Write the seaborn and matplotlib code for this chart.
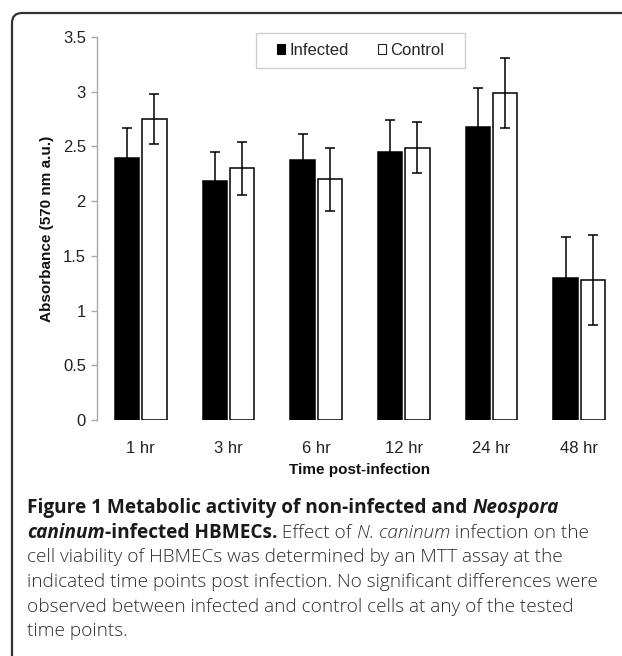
import numpy as np
import pandas as pd
import matplotlib
matplotlib.use("Agg")
import matplotlib.pyplot as plt
import seaborn as sns
from matplotlib.path import Path
from matplotlib.patches import PathPatch, Patch, Rectangle
from matplotlib.transforms import IdentityTransform

# ---------------- data ----------------
timepoints = ["1 hr", "3 hr", "6 hr", "12 hr", "24 hr", "48 hr"]
groups = ["Infected", "Control"]
infected_mean = [2.39, 2.18, 2.38, 2.45, 2.68, 1.30]
infected_err = [0.28, 0.27, 0.23, 0.29, 0.35, 0.37]
control_mean = [2.75, 2.30, 2.20, 2.49, 2.99, 1.28]
control_err = [0.23, 0.24, 0.29, 0.23, 0.32, 0.41]
y_ticks = [0, 0.5, 1, 1.5, 2, 2.5, 3, 3.5]
y_tick_labels = ["0", "0.5", "1", "1.5", "2", "2.5", "3", "3.5"]
y_label = "Absorbance (570 nm a.u.)"
x_label = "Time post-infection"

df = pd.DataFrame({
    "Time": timepoints * 2,
    "Group": [groups[0]] * len(timepoints) + [groups[1]] * len(timepoints),
    "Absorbance": infected_mean + control_mean,
})
errs = {groups[0]: infected_err, groups[1]: control_err}

sns.set_theme(style="white")
plt.rcParams['font.family'] = ['Liberation Sans Narrow', 'Liberation Sans', 'DejaVu Sans']

W, H = 622, 656
fig = plt.figure(figsize=(W / 100, H / 100), dpi=100)
fig.patch.set_facecolor("white")
ax = fig.add_axes([97 / W, 1 - 420 / H, (623 - 97) / W, (420 - 37) / H])

sns.barplot(data=df, x="Time", y="Absorbance", hue="Group",
            order=timepoints, hue_order=groups,
            palette={groups[0]: "black", groups[1]: "white"},
            edgecolor="black", linewidth=1.1, width=0.62, gap=0.1,
            errorbar=None, legend=False, ax=ax)

for cont, g in zip(ax.containers, groups):
    xs = [b.get_x() + b.get_width() / 2 for b in cont]
    ys = [b.get_height() for b in cont]
    ax.errorbar(xs, ys, yerr=errs[g], fmt="none", ecolor="black",
                elinewidth=1.1, capsize=3.5, capthick=1.1, zorder=5)

ax.set_xlim(-0.5, 5.5)
ax.set_ylim(0, 3.5)
ax.set_yticks(y_ticks)
ax.set_yticklabels(y_tick_labels)
for s in ["top", "right", "bottom"]:
    ax.spines[s].set_visible(False)
ax.spines["left"].set_color("#a8a8a8")
ax.spines["left"].set_linewidth(1.0)
ax.tick_params(axis="y", left=True, length=4, width=1.0, color="#a8a8a8",
               labelsize=12, labelcolor="#222222", pad=4)
ax.tick_params(axis="x", bottom=False, labelsize=12, labelcolor="#222222", pad=9)

ax.set_xlabel(x_label, fontsize=11, fontweight="bold", color="#111111",
              family=['Liberation Sans', 'DejaVu Sans'])
ax.xaxis.set_label_coords(0.5, (420 - 463) / 383)
ax.set_ylabel(y_label, fontsize=11, fontweight="bold", color="#111111",
              family=['Liberation Sans', 'DejaVu Sans'])
ax.yaxis.set_label_coords(-0.082, 0.5)

# legend
handles = [Patch(facecolor="black", edgecolor="black", linewidth=0.8),
           Patch(facecolor="white", edgecolor="#222222", linewidth=0.8)]
fig.legend(handles, groups, loc="center",
           bbox_to_anchor=((256 + 465) / 2 / W, 1 - (33 + 68) / 2 / H),
           ncol=2, frameon=False, fontsize=12, handlelength=0.5, handleheight=0.5,
           handletextpad=0.25, columnspacing=1.75)
fig.patches.append(Rectangle((256 / W, 1 - 68 / H), (465 - 256) / W, 35 / H,
                             transform=fig.transFigure, fill=False,
                             edgecolor="#cfcfcf", linewidth=1.0))

# frame with rounded top-left corner
r = 10
fx, fy = 12, 13
verts = [(fx, 0), (fx, H - fy - r), (fx, H - fy), (fx + r, H - fy), (W + 2, H - fy)]
codes = [Path.MOVETO, Path.LINETO, Path.CURVE3, Path.CURVE3, Path.LINETO]
fig.patches.append(PathPatch(Path(verts, codes), transform=IdentityTransform(),
                             fill=False, edgecolor="#333333", linewidth=1.6))

# caption
renderer = fig.canvas.get_renderer()
cap_size = 13.65
CF = ["Open Sans", "DejaVu Sans"]
lines = [
    [("Figure 1 Metabolic activity of non-infected and ", "bold", "normal"),
     ("Neospora", "bold", "italic")],
    [("caninum", "bold", "italic"), ("-infected HBMECs.", "bold", "normal"),
     (" Effect of ", "light", "normal"), ("N. caninum", "light", "italic"),
     (" infection on the", "light", "normal")],
    [("cell viability of HBMECs was determined by an MTT assay at the", "light", "normal")],
    [("indicated time points post infection. No significant differences were", "light", "normal")],
    [("observed between infected and control cells at any of the tested", "light", "normal")],
    [("time points.", "light", "normal")],
]
baselines = [513, 537.5, 562, 587, 611.5, 636]
for runs, bl in zip(lines, baselines):
    x = 27
    for txt, wt, st in runs:
        col = "#1a1a1a" if wt == "bold" else "#2e2e2e"
        t = fig.text(x, H - bl, txt, fontsize=cap_size, fontweight=wt, fontstyle=st,
                     family=CF, color=col, va="baseline", ha="left",
                     transform=IdentityTransform())
        x += t.get_window_extent(renderer).width

fig.savefig("out.png", dpi=100, facecolor="white")
